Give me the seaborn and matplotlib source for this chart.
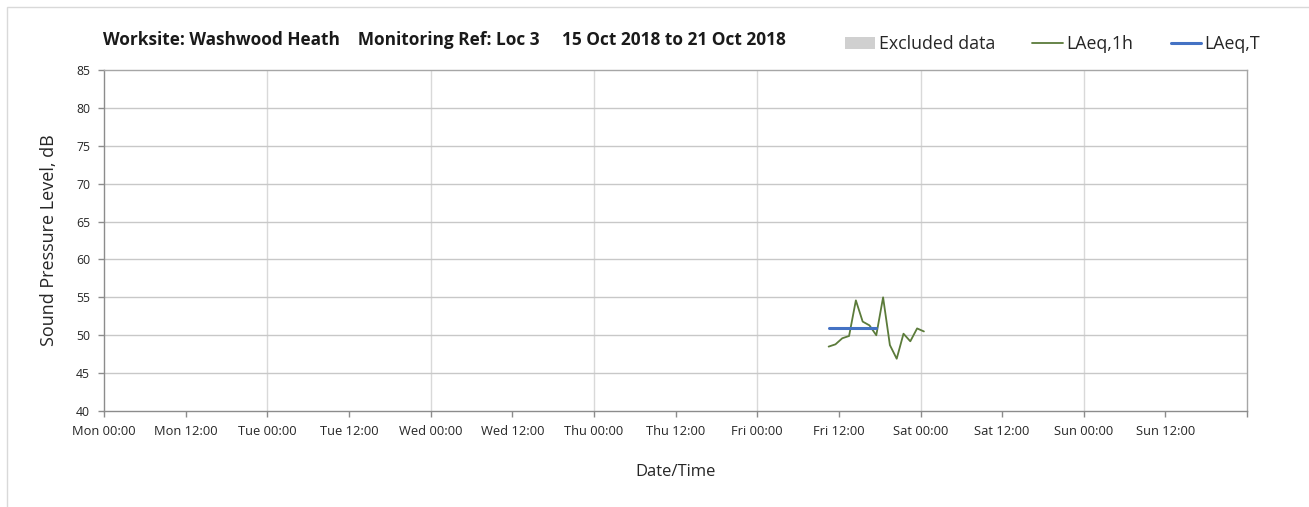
import numpy as np
import pandas as pd
import seaborn as sns
import matplotlib.pyplot as plt
from matplotlib.patches import Patch, Rectangle
from matplotlib.lines import Line2D

# hourly LAeq values, Fri 19 Oct 2018 10:30 to Sat 00:30
hour_times = pd.date_range("2018-10-19 10:30", periods=15, freq="h")
laeq_1h = [48.5, 48.8, 49.6, 49.9, 54.6, 51.8, 51.3, 50.0,
           55.0, 48.7, 46.9, 50.2, 49.2, 50.9, 50.5]

# period LAeq,T
period_times = pd.to_datetime(["2018-10-19 10:30", "2018-10-19 17:30"])
laeq_t = [51.0, 51.0]

day_names = ["Mon", "Tue", "Wed", "Thu", "Fri", "Sat", "Sun"]
tick_labels = [f"{d} {h}" for d in day_names for h in ["00:00", "12:00"]]

title = ("Worksite: Washwood Heath    Monitoring Ref: Loc 3     "
         "15 Oct 2018 to 21 Oct 2018")

sns.set_theme(style="white")
plt.rcParams['font.family'] = ['Open Sans', 'DejaVu Sans']

fig = plt.figure(figsize=(13.09, 5.07), dpi=100)
ax = fig.add_axes([0.0795, 0.1893, 0.8732, 0.6727])

df1 = pd.DataFrame({"time": hour_times, "level": laeq_1h})
dft = pd.DataFrame({"time": period_times, "level": laeq_t})
sns.lineplot(data=df1, x="time", y="level", color="#5b7b3a", linewidth=1.3, ax=ax)
sns.lineplot(data=dft, x="time", y="level", color="#4472c4", linewidth=2.2, ax=ax)

start = pd.Timestamp("2018-10-15 00:00")
ax.set_xlim(start, start + pd.Timedelta(days=7))
ax.set_ylim(40, 85)
ax.set_yticks(np.arange(40, 86, 5))

tick_pos = [start + pd.Timedelta(hours=12 * i) for i in range(14)]
ax.set_xticks(tick_pos + [start + pd.Timedelta(days=7)])
ax.set_xticklabels(tick_labels + [""])

for d in range(1, 7):
    ax.axvline(start + pd.Timedelta(days=d), color="#d9d9d9", linewidth=1, zorder=0)
for y in range(45, 85, 5):
    ax.axhline(y, color="#c8c8c8", linewidth=1, zorder=0)

for s in ax.spines.values():
    s.set_visible(True)
    s.set_color("#a6a6a6")
    s.set_linewidth(1)
ax.spines["left"].set_color("#8c8c8c")
ax.spines["bottom"].set_color("#8c8c8c")

ax.tick_params(axis="both", direction="out", length=4, width=1, color="#8c8c8c",
               labelcolor="#262626", pad=6, bottom=True, left=True)
ax.tick_params(axis="x", labelsize=9.3)
ax.tick_params(axis="y", labelsize=8.8)

ax.set_xlabel("Date/Time", fontsize=12, color="#262626", labelpad=19)
ax.set_ylabel("Sound Pressure Level, dB", fontsize=13, color="#262626", labelpad=13)

fig.text(103 / 1309, 1 - 40 / 507, title, fontsize=12.4, fontweight="bold",
         color="#1a1a1a", va="center", ha="left")

handles = [Patch(facecolor="#d0d0d0", edgecolor="none"),
           Line2D([0], [0], color="#5b7b3a", linewidth=1.3),
           Line2D([0], [0], color="#4472c4", linewidth=2.2)]
fig.legend(handles, ["Excluded data", "LAeq,1h", "LAeq,T"], ncol=3, frameon=False,
           loc="center right", bbox_to_anchor=(1276 / 1309, 1 - 44 / 507),
           fontsize=12.8, columnspacing=2.1, handlelength=1.7, handletextpad=0.2,
           labelcolor="#262626")

# light frame round the chart
fig.add_artist(Rectangle((7 / 1309, -0.05), 1.1, 1 - 7 / 507 + 0.05,
                         transform=fig.transFigure, fill=False,
                         edgecolor="#d9d9d9", linewidth=1))

fig.savefig("out.png", dpi=100)
